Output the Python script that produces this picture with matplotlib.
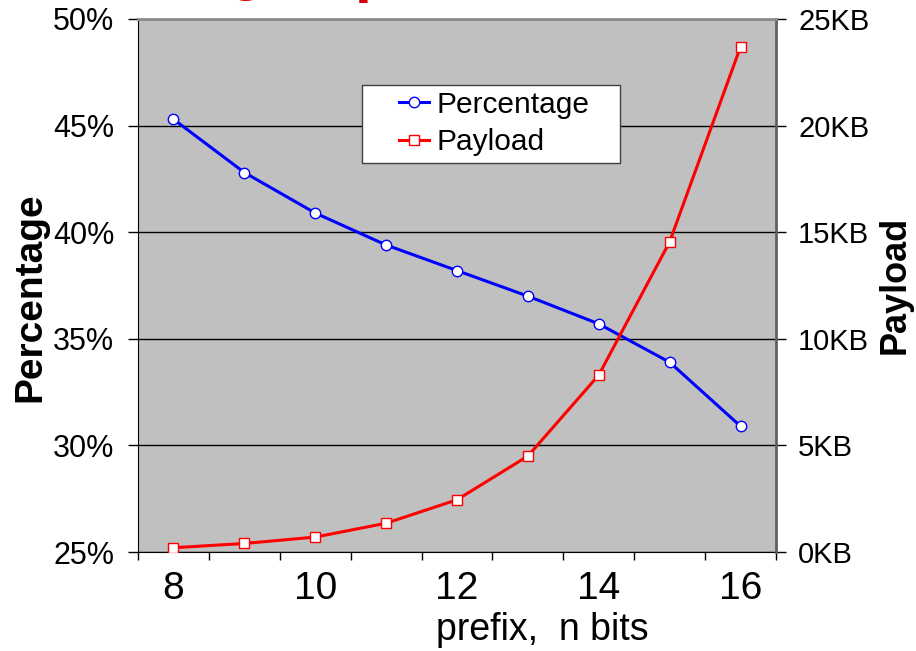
import numpy as np
import matplotlib.pyplot as plt
from matplotlib.patches import Rectangle

plt.rcParams['font.family'] = ['Liberation Sans', 'DejaVu Sans']

# prefix length vs. percentage and payload size
prefix_bits = [8, 9, 10, 11, 12, 13, 14, 15, 16]
percentage = [45.3, 42.8, 40.9, 39.4, 38.2, 37.0, 35.7, 33.9, 30.9]
payload_kb = [0.2, 0.4, 0.7, 1.35, 2.45, 4.5, 8.3, 14.55, 23.7]

pct_ticks = [25, 30, 35, 40, 45, 50]
kb_ticks = [0, 5, 10, 15, 20, 25]

W, H = 916, 651
fig = plt.figure(figsize=(W / 100, H / 100), dpi=100)
ax = fig.add_axes([138 / W, 99 / H, 638 / W, 533 / H])
ax2 = ax.twinx()

pos = np.arange(len(prefix_bits))

ax.set_facecolor('#C0C0C0')
l1, = ax.plot(pos, percentage, color='#0000FF', lw=2.2, marker='o', ms=7.5,
              mfc='white', mec='#0000FF', mew=1, label='Percentage', zorder=3)
l2, = ax2.plot(pos, payload_kb, color='#FF0000', lw=2.2, marker='s', ms=7.5,
               mfc='white', mec='#FF0000', mew=1, label='Payload', zorder=3)

ax.set_xlim(-0.5, len(pos) - 0.5)
ax.set_ylim(25, 50)
ax2.set_ylim(0, 25)

ax.set_yticks(pct_ticks, [f'{v}%' for v in pct_ticks])
ax2.set_yticks(kb_ticks, [f'{v}KB' for v in kb_ticks])
ax.grid(axis='y', color='black', lw=1)

ax.set_xticks(pos[::2], [str(b) for b in prefix_bits[::2]])
ax.set_xticks(np.arange(-0.5, len(pos)), minor=True)
ax.tick_params(axis='x', which='major', length=0, pad=14, labelsize=28)
ax.tick_params(axis='x', which='minor', direction='out', length=6, width=1)
ax.tick_params(axis='y', direction='out', length=7, width=1, pad=10, labelsize=22)
ax2.tick_params(axis='y', direction='out', length=7, width=1, pad=9, labelsize=21)

# spines: black left/bottom, gray top/right
for s in ['top', 'right']:
    ax.spines[s].set_visible(False)
for s in ['left', 'bottom']:
    ax2.spines[s].set_visible(False)
ax.spines['left'].set_color('black')
ax.spines['bottom'].set_color('black')
ax2.spines['top'].set_color('#8C8C8C')
ax2.spines['top'].set_linewidth(2)
ax2.spines['right'].set_color('#606060')
ax2.spines['right'].set_linewidth(2)

# axis titles
fig.text(30 / W, 1 - 297 / H, 'Percentage', rotation=90, fontsize=28,
         fontweight='bold', ha='center', va='center')
fig.text(895 / W, 1 - 285 / H, 'Payload', rotation=90, fontsize=26,
         fontweight='bold', ha='center', va='center')
fig.text(542 / W, (H - 640) / H, 'prefix,  n bits', fontsize=27,
         ha='center', va='baseline')

# legend with a wide white box
box = Rectangle((362 / W, 1 - 163 / H), 258 / W, 78 / H, transform=fig.transFigure,
                facecolor='white', edgecolor='#404040', lw=1)
fig.add_artist(box)
fig.legend([l1, l2], ['Percentage', 'Payload'], frameon=False, loc='center left',
           bbox_to_anchor=(399 / W, 1 - 123.5 / H), borderpad=0, borderaxespad=0,
           fontsize=21.5, handlelength=1.0, handletextpad=0.27, labelspacing=0.33)

# slide title running off the top edge
fig.text(246 / W, (H + 12) / H, 'g', color='#D80000', fontsize=44,
         fontweight='bold', ha='center', va='baseline')
fig.text(355 / W, (H + 10) / H, 'p', color='#D80000', fontsize=44,
         fontweight='bold', ha='left', va='baseline')

fig.savefig('out.png', dpi=100)
